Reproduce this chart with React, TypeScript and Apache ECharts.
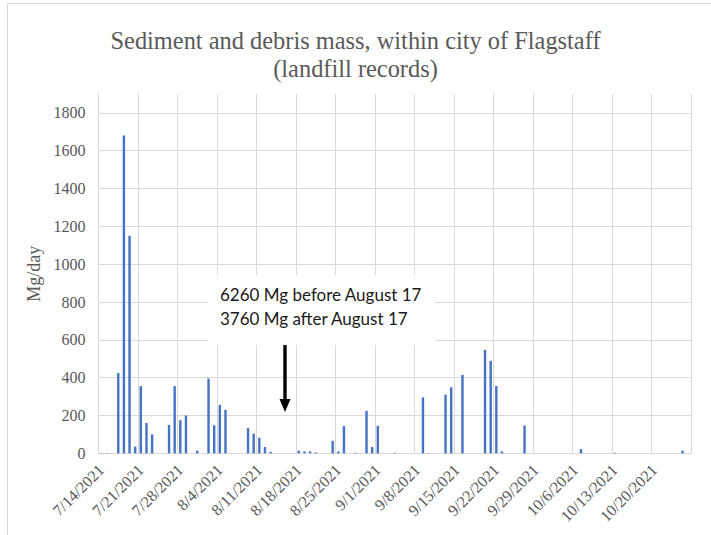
import React, { useEffect, useRef } from "react";
import * as echarts from "echarts";

// Days with recorded loads (M/D, 2021) and their mass in Mg/day
const barDates = [
  "7/14", "7/15", "7/17", "7/18", "7/19", "7/20", "7/21", "7/22", "7/23",
  "7/26", "7/27", "7/28", "7/29", "7/31", "8/2", "8/3", "8/4", "8/5",
  "8/9", "8/10", "8/11", "8/12", "8/13", "8/18", "8/19", "8/20", "8/21",
  "8/24", "8/25", "8/26", "8/28", "8/30", "8/31", "9/1", "9/4", "9/9",
  "9/10", "9/13", "9/14", "9/16", "9/20", "9/21", "9/22", "9/23", "9/27",
  "10/7", "10/13", "10/25",
];
const barValues = [
  2, 2, 425, 1680, 1150, 35, 355, 160, 100,
  150, 355, 175, 200, 14, 395, 148, 256, 230,
  133, 104, 82, 33, 8, 14, 10, 10, 5,
  66, 10, 144, 3, 224, 33, 145, 3, 296,
  2, 310, 349, 414, 547, 489, 356, 10, 147,
  22, 3, 14,
];

const startDate = { year: 2021, month: 7, day: 14 };
const dayCount = 105; // 7/14/2021 .. 10/26/2021
const yTicks = [0, 200, 400, 600, 800, 1000, 1200, 1400, 1600, 1800];
const titleText = "Sediment and debris mass, within city of Flagstaff\n(landfill records)";
const noteLines = ["6260 Mg before August 17", "3760 Mg after August 17"];

const SERIF = "Liberation Serif";

function buildCategories(): { labels: string[]; keys: string[] } {
  const labels: string[] = [];
  const keys: string[] = [];
  const d = new Date(startDate.year, startDate.month - 1, startDate.day);
  for (let i = 0; i < dayCount; i++) {
    const m = d.getMonth() + 1;
    const day = d.getDate();
    keys.push(`${m}/${day}`);
    labels.push(`${m}/${day}/${d.getFullYear()}`);
    d.setDate(d.getDate() + 1);
  }
  return { labels, keys };
}

export default function App() {
  const ref = useRef<HTMLDivElement>(null);
  useEffect(() => {
    document.body.style.margin = "0";
    if (!ref.current) return;
    const chart = echarts.init(ref.current, undefined, { renderer: "svg" });
    const { labels, keys } = buildCategories();
    const lookup: Record<string, number> = {};
    barDates.forEach((k, i) => (lookup[k] = barValues[i]));
    const seriesData = keys.map((k) => (k in lookup ? lookup[k] : 0));

    const gray = "#d9d9d9";
    const splitColors = yTicks.map(() => gray).concat(["rgba(0,0,0,0)"]);

    chart.setOption({
      animation: false,
      backgroundColor: "#ffffff",
      title: {
        text: titleText,
        left: "center",
        top: 21,
        textStyle: {
          fontFamily: SERIF,
          fontSize: 24.4,
          fontWeight: "normal",
          color: "#595959",
          lineHeight: 28,
        },
      },
      grid: {
        left: 98.5,
        right: 20,
        top: 94,
        bottom: 81.7,
        containLabel: false,
        outerBoundsMode: "none",
      },
      xAxis: {
        type: "category",
        data: labels,
        boundaryGap: true,
        axisTick: { show: false },
        axisLine: { show: true, lineStyle: { color: gray, width: 1 } },
        axisLabel: {
          interval: 6,
          rotate: 45,
          margin: 14,
          fontFamily: SERIF,
          fontSize: 16,
          color: "#595959",
        },
        splitLine: { show: true, interval: 6, lineStyle: { color: gray, width: 1 } },
      },
      yAxis: {
        type: "value",
        min: 0,
        max: 1900,
        interval: 200,
        name: "Mg/day",
        nameLocation: "middle",
        nameRotate: 90,
        nameGap: 48,
        nameTextStyle: {
          fontFamily: SERIF,
          fontSize: 18,
          color: "#595959",
        },
        axisLine: { show: false },
        axisTick: { show: false },
        axisLabel: {
          showMaxLabel: false,
          margin: 13,
          fontFamily: SERIF,
          fontSize: 16,
          color: "#595959",
          formatter: (v: number) => String(v),
        },
        splitLine: { show: true, lineStyle: { color: splitColors, width: 1 } },
      },
      series: [
        {
          type: "bar",
          data: seriesData,
          barWidth: 2.4,
          itemStyle: { color: "#4472C4" },
        },
      ],
      graphic: [
        {
          type: "rect",
          z: 100,
          shape: { x: 208, y: 275, width: 227, height: 70 },
          style: { fill: "#ffffff" },
        },
        {
          type: "text",
          z: 101,
          x: 220,
          y: 294,
          style: {
            text: noteLines[0],
            fontFamily: "Lato",
            fontSize: 17,
            fill: "#1a1a1a",
            verticalAlign: "middle",
          },
        },
        {
          type: "text",
          z: 101,
          x: 220,
          y: 318,
          style: {
            text: noteLines[1],
            fontFamily: "Lato",
            fontSize: 17,
            fill: "#1a1a1a",
            verticalAlign: "middle",
          },
        },
        {
          type: "line",
          z: 101,
          shape: { x1: 285, y1: 345, x2: 285, y2: 401 },
          style: { stroke: "#000000", lineWidth: 3.4 },
        },
        {
          type: "polygon",
          z: 101,
          shape: { points: [[279.5, 399], [290.5, 399], [285, 412]] },
          style: { fill: "#000000" },
        },
        {
          type: "rect",
          z: 102,
          shape: { x: 7.5, y: 3.5, width: 720, height: 540 },
          style: { fill: "none", stroke: gray, lineWidth: 1 },
        },
      ],
    });
    return () => chart.dispose();
  }, []);
  return (
    <div
      ref={ref}
      style={{ position: "absolute", left: 0, top: 0, width: 711, height: 535 }}
    />
  );
}
